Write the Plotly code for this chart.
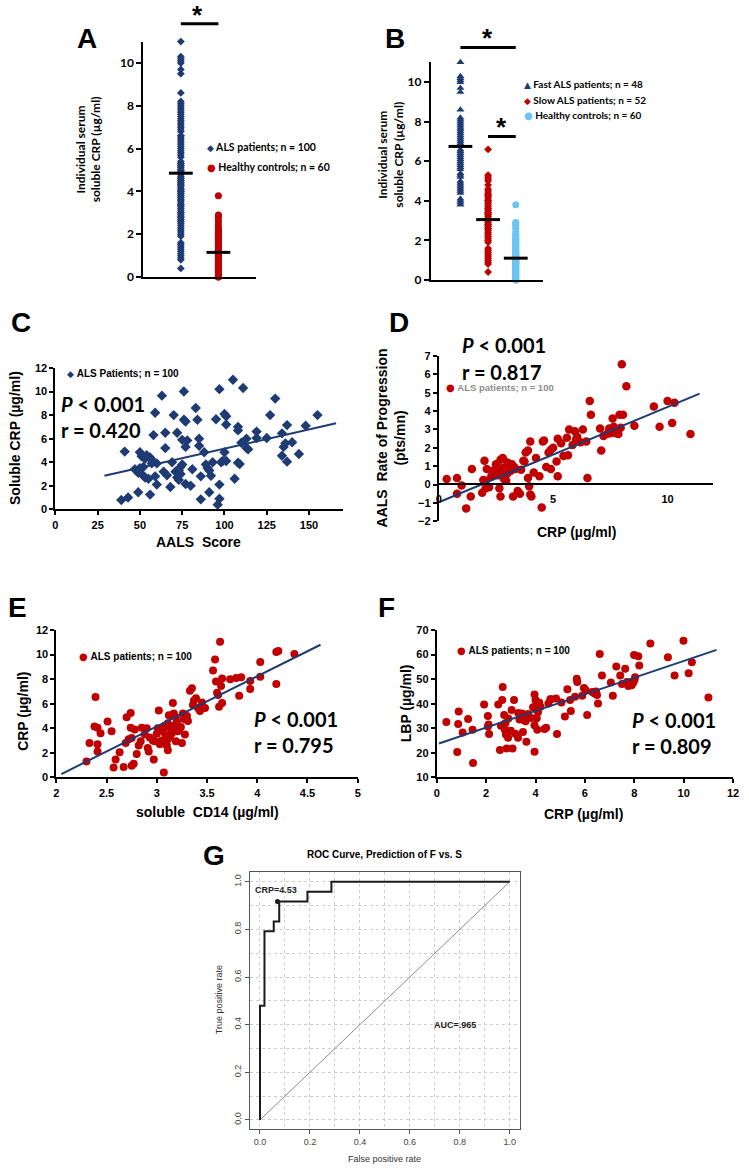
import plotly.graph_objects as go

W, H = 749, 1173
NAVY = "#1f3b73"
RED = "#c00000"
SKY = "#6cc5f2"

# A / B : individual serum soluble CRP (ug/ml)
fast_crp = [11.0, 10.3, 10.2, 10.1, 10.0, 9.7, 9.5, 8.6, 8.2, 8.1, 8.0, 7.9, 7.8, 7.7, 7.6, 7.5,
            7.4, 7.3, 7.2, 7.1, 7.0, 6.9, 6.8, 6.6, 6.5, 6.4, 6.3, 6.2, 6.1, 6.0, 5.9, 5.8,
            5.7, 5.6, 5.4, 5.3, 5.2, 5.0, 4.9, 4.8, 4.7, 4.6, 4.5, 4.4, 4.1, 4.0, 3.9, 3.8]
slow_crp = [6.6, 5.3, 5.2, 5.1, 5.0, 4.8, 4.6, 4.5, 4.4, 4.3, 4.2, 4.1, 4.0, 4.0, 3.9, 3.8,
            3.7, 3.6, 3.5, 3.4, 3.3, 3.3, 3.2, 3.1, 3.0, 3.0, 2.9, 2.8, 2.7, 2.6, 2.6, 2.5,
            2.4, 2.3, 2.2, 2.1, 2.0, 1.9, 1.6, 1.5, 1.4, 1.3, 1.2, 1.1, 1.0, 0.9, 0.8, 0.4,
            3.6, 2.8, 4.3, 3.4]
als_crp = fast_crp + slow_crp
healthy_crp = [3.8, 2.9, 2.85, 2.75, 2.6, 2.45, 2.3, 2.25, 2.2, 2.1, 2.05, 2.0, 1.95, 1.9, 1.85,
               1.8, 1.7, 1.65, 1.6, 1.55, 1.5, 1.45, 1.4, 1.35, 1.3, 1.25, 1.2, 1.15, 1.1, 1.05,
               1.0, 0.95, 0.9, 0.85, 0.8, 0.75, 0.7, 0.65, 0.6, 0.55, 0.5, 0.45, 0.4, 0.35, 0.3,
               0.25, 0.2, 0.15, 0.1, 0.05, 0.0, 0.0, 1.75, 1.2, 0.9, 0.6, 0.3, 1.4, 0.8, 1.0]
a_cats = ["ALS", "Healthy"]
b_cats = ["Fast", "Slow", "Healthy"]
a_names = ["ALS patients; n = 100", "Healthy controls; n = 60"]
b_names = ["Fast ALS patients; n = 48", "Slow ALS patients; n = 52", "Healthy controls; n = 60"]
a_means = [4.85, 1.15]
b_means = [6.75, 3.05, 1.1]

# C : AALS score vs soluble CRP
c_aals = [41, 39, 43, 49, 49, 50, 50, 51, 51, 52, 53, 53, 54, 55, 56, 56, 57, 57, 58, 59,
          59, 60, 60, 63, 64, 65, 65, 66, 68, 69, 70, 71, 72, 72, 73, 73, 74, 74, 75, 75,
          76, 76, 77, 77, 77, 78, 80, 81, 83, 84, 85, 85, 86, 86, 88, 89, 90, 91, 92, 91,
          93, 95, 96, 97, 97, 97, 98, 99, 100, 100, 101, 101, 101, 105, 106, 108, 108, 108, 109, 111,
          110, 113, 113, 114, 119, 119, 125, 127, 130, 134, 134, 135, 136, 137, 137, 140, 144, 148, 155, 47]
c_crp = [4.9, 0.8, 1.0, 1.45, 3.1, 3.5, 4.85, 4.5, 3.0, 3.6, 2.7, 4.3, 4.6, 2.6, 4.4, 1.25, 4.2, 3.9, 6.3, 2.8,
         8.2, 2.1, 3.9, 9.65, 3.2, 6.5, 5.2, 2.9, 1.9, 4.0, 8.0, 3.2, 6.5, 2.7, 3.3, 2.5, 3.6, 3.0, 3.8, 5.9,
         7.6, 10.0, 7.45, 5.3, 2.15, 5.85, 2.0, 3.4, 8.6, 7.6, 6.0, 5.4, 2.8, 0.85, 4.85, 3.8, 3.5, 3.3, 2.85, 1.45,
         4.0, 7.65, 0.4, 10.2, 0.9, 2.1, 4.0, 4.1, 4.85, 8.1, 7.9, 7.2, 4.1, 11.0, 2.6, 6.7, 7.0, 3.95, 3.85, 10.3,
         5.65, 6.0, 5.2, 5.1, 6.6, 6.05, 6.05, 8.0, 9.4, 4.55, 6.45, 5.3, 5.6, 7.15, 4.05, 5.7, 4.7, 7.1, 8.0, 3.4]
c_fit_x = [29, 166]
c_fit_y = [2.85, 7.3]

# D : CRP vs AALS rate of progression
d_crp = [0.35, 0.8, 0.8, 1.0, 1.2, 1.4, 1.45, 1.9, 2.0, 2.05, 2.05, 2.1, 2.3, 2.5, 2.55, 2.6, 2.65, 2.7, 2.7, 2.8,
         2.8, 2.85, 2.95, 3.0, 3.1, 3.15, 3.25, 3.3, 3.45, 3.55, 3.7, 3.8, 3.9, 3.9, 3.95, 4.0, 4.0, 4.05, 4.15, 4.25,
         4.4, 4.5, 4.55, 4.6, 4.8, 4.9, 4.9, 5.15, 5.2, 5.2, 5.35, 5.45, 5.65, 5.7, 5.85, 5.95, 6.0, 6.05, 6.3, 6.45,
         6.5, 6.6, 6.65, 7.05, 7.1, 7.2, 7.35, 7.45, 7.6, 7.65, 7.75, 7.85, 7.9, 8.0, 8.05, 8.2, 8.55, 9.4, 9.65, 10.0,
         10.2, 10.3, 11.0, 2.35, 2.6, 3.35, 3.6, 2.2, 3.0, 5.0, 6.2, 7.5, 2.9, 3.75, 1.95, 4.7, 5.6, 3.2, 2.75, 7.95]
d_rate = [0.3, -0.5, 0.35, -0.05, -1.3, -0.65, 0.85, -0.45, 1.3, -0.2, 0.2, 0.85, 0.45, 1.1, 0.95, 0.7, -0.2, -0.65, 1.35, 1.45,
          0.9, 0.3, 0.2, 1.2, 1.0, 0.75, -0.65, 0.95, -0.35, -0.5, 1.3, 1.75, 1.85, 0.35, -0.1, 2.35, -0.55, -0.65, 0.65, 1.45,
          0.45, -1.25, 2.35, 2.4, 1.75, 0.85, 1.9, 1.25, 0.45, 2.5, 2.25, 1.55, 1.6, 3.0, 2.15, 2.9, 2.45, 2.6, 3.0, 2.35,
          0.35, 4.55, 3.8, 3.05, 1.85, 2.65, 2.75, 3.05, 3.6, 3.15, 2.8, 2.75, 3.8, 6.55, 3.8, 5.35, 3.2, 4.25, 3.15, 4.55,
          3.35, 4.45, 2.75, 0.75, 0.5, 0.85, 0.8, -0.15, 0.6, 2.0, 2.3, 2.8, 0.45, 1.25, 0.25, 0.95, 2.55, 1.1, 0.65, 3.1]
d_fit_x = [0.03, 11.4]
d_fit_y = [-0.95, 4.95]

# E : soluble CD14 vs CRP
e_cd14 = [2.3, 2.33, 2.39, 2.38, 2.41, 2.41, 2.41, 2.44, 2.51, 2.55, 2.57, 2.59, 2.63, 2.67, 2.69, 2.7, 2.72, 2.74, 2.74, 2.75,
          2.75, 2.77, 2.8, 2.84, 2.85, 2.9, 2.91, 2.92, 2.93, 2.97, 2.98, 3.02, 3.01, 3.03, 3.05, 3.07, 3.08, 3.09, 3.1, 3.11,
          3.11, 3.11, 3.13, 3.16, 3.17, 3.17, 3.19, 3.21, 3.22, 3.25, 3.26, 3.28, 3.3, 3.31, 3.33, 3.35, 3.37, 3.39, 3.41, 3.43,
          3.48, 3.56, 3.58, 3.59, 3.61, 3.62, 3.63, 3.64, 3.65, 3.65, 3.73, 3.79, 3.84, 3.82, 3.93, 3.93, 4.03, 4.03, 4.19, 4.19,
          4.21, 4.37, 3.2, 3.0, 3.14, 3.24, 2.88, 2.96, 3.06, 3.15, 3.36, 3.45, 3.12, 2.78, 3.27, 3.6, 3.07, 2.82, 3.19, 3.1]
e_crp = [1.3, 2.8, 6.55, 4.15, 4.05, 2.7, 2.1, 3.6, 4.55, 3.75, 0.8, 1.45, 2.05, 0.85, 2.8, 4.9, 3.1, 5.25, 4.05, 0.95,
         3.2, 1.1, 1.9, 2.95, 4.05, 4.0, 2.4, 2.1, 3.25, 1.45, 2.95, 5.45, 4.0, 2.7, 3.0, 0.4, 4.2, 3.4, 2.6, 3.1,
         4.4, 2.2, 3.3, 6.05, 5.2, 4.2, 4.9, 3.75, 3.9, 2.8, 5.2, 3.5, 5.0, 4.6, 7.05, 7.25, 6.25, 6.45, 5.65, 5.4,
         5.65, 8.7, 9.6, 7.8, 6.7, 5.75, 11.05, 7.45, 8.05, 6.05, 8.0, 8.1, 8.15, 6.65, 7.85, 7.2, 9.4, 8.2, 7.6, 10.2,
         10.3, 10.05, 4.5, 3.55, 4.0, 4.1, 3.5, 3.0, 2.9, 3.6, 5.9, 6.1, 5.05, 3.9, 4.75, 6.9, 3.7, 2.6, 2.95, 3.35]
e_fit_x = [2.05, 4.63]
e_fit_y = [0.27, 10.8]

# F : CRP vs LBP
f_crp = [0.39, 0.83, 0.87, 0.89, 1.05, 1.27, 1.45, 1.47, 1.92, 2.07, 2.07, 2.12, 2.1, 2.49, 2.56, 2.65, 2.67, 2.73, 2.76, 2.78,
         2.8, 2.83, 2.89, 2.95, 3.03, 3.07, 3.13, 3.18, 3.29, 3.3, 3.35, 3.49, 3.52, 3.63, 3.7, 3.83, 3.96, 3.96, 3.96, 4.0,
         4.03, 4.05, 4.07, 4.15, 4.36, 4.43, 4.52, 4.63, 4.83, 4.87, 5.19, 5.29, 5.4, 5.43, 5.67, 5.69, 5.89, 5.96, 6.03, 6.09,
         6.39, 6.49, 6.53, 6.6, 6.69, 7.05, 7.13, 7.27, 7.43, 7.63, 7.7, 7.76, 7.89, 7.99, 8.03, 8.16, 8.2, 8.65, 9.36, 9.63,
         9.99, 10.2, 10.33, 11.0, 2.6, 3.0, 3.45, 3.9, 4.2, 4.6, 5.05, 5.6, 6.3, 7.5, 7.95, 2.9, 3.6, 4.1, 6.45, 8.0]
f_lbp = [32.5, 20.3, 31.7, 36.8, 28.3, 33.8, 29.4, 15.8, 39.7, 35.0, 30.7, 27.7, 31.5, 39.7, 21.1, 41.5, 46.8, 35.4, 29.4, 32.0,
         27.5, 21.8, 26.1, 28.8, 37.4, 21.8, 41.5, 27.8, 26.1, 36.2, 33.6, 28.5, 33.4, 24.5, 35.8, 34.2, 43.7, 31.2, 20.4, 41.5,
         39.5, 34.1, 29.4, 40.5, 29.7, 30.2, 40.1, 41.8, 42.1, 27.7, 34.8, 45.9, 41.5, 37.0, 50.2, 48.8, 43.2, 46.4, 45.5, 35.4,
         44.1, 43.5, 40.1, 60.2, 51.5, 48.6, 43.2, 55.1, 51.5, 54.2, 48.8, 47.2, 47.5, 59.8, 50.8, 59.3, 55.5, 64.5, 58.9, 51.5,
         65.6, 52.4, 56.9, 42.5, 31.0, 29.0, 36.0, 38.5, 38.8, 41.8, 40.5, 42.8, 44.8, 48.0, 48.5, 34.0, 32.8, 36.5, 45.0, 49.5]
f_fit_x = [0.09, 11.33]
f_fit_y = [23.8, 61.9]

# G : ROC curve, fast vs slow
roc_fpr = [0, 0, 0.018, 0.018, 0.055, 0.055, 0.077, 0.077, 0.19, 0.19, 0.286, 0.286, 1.0]
roc_tpr = [0, 0.479, 0.479, 0.792, 0.792, 0.833, 0.833, 0.917, 0.917, 0.958, 0.958, 1.0, 1.0]
cut_fpr = [0.07]
cut_tpr = [0.917]
diag = [0, 1]


def px(v):
    return v / W


def py(v):
    return 1 - v / H


CAL = "Lato"
ARI = "Liberation Sans"
cal_tick = dict(family=CAL, size=12, color="black", weight="bold")
ari_tick = dict(family=ARI, size=11, color="black", weight="bold")
g_tick = dict(family=ARI, size=9, color="#444")

fig = go.Figure()


def pts(x, y, ax, sym, size, color, name):
    fig.add_trace(go.Scatter(x=x, y=y, mode="markers", name=name, showlegend=False,
                             marker=dict(symbol=sym, size=size, color=color),
                             xaxis="x" + ax, yaxis="y" + ax, cliponaxis=False))


def fit(x, y, ax):
    fig.add_trace(go.Scatter(x=x, y=y, mode="lines", showlegend=False,
                             line=dict(color=NAVY, width=2), xaxis="x" + ax, yaxis="y" + ax))


def means(cats, vals, ax):
    fig.add_trace(go.Scatter(x=cats, y=vals, mode="markers", showlegend=False, cliponaxis=False,
                             marker=dict(symbol="line-ew", size=17, line=dict(width=3, color="black")),
                             xaxis="x" + ax, yaxis="y" + ax))


# A
pts([a_cats[0]] * len(als_crp), als_crp, "", "diamond", 6, NAVY, a_names[0])
pts([a_cats[1]] * len(healthy_crp), healthy_crp, "", "circle", 7, RED, a_names[1])
means(a_cats, a_means, "")
# B
pts([b_cats[0]] * len(fast_crp), fast_crp, "2", "triangle-up", 7, NAVY, b_names[0])
pts([b_cats[1]] * len(slow_crp), slow_crp, "2", "diamond", 6, RED, b_names[1])
pts([b_cats[2]] * len(healthy_crp), healthy_crp, "2", "circle", 7, SKY, b_names[2])
means(b_cats, b_means, "2")
# C - F
pts(c_aals, c_crp, "3", "diamond", 8, NAVY, "ALS Patients; n = 100")
fit(c_fit_x, c_fit_y, "3")
pts(d_crp, d_rate, "4", "circle", 8.5, RED, "ALS patients; n = 100")
fit(d_fit_x, d_fit_y, "4")
pts(e_cd14, e_crp, "5", "circle", 8, RED, "ALS patients; n = 100")
fit(e_fit_x, e_fit_y, "5")
pts(f_crp, f_lbp, "6", "circle", 8, RED, "ALS patients; n = 100")
fit(f_fit_x, f_fit_y, "6")
# G
fig.add_trace(go.Scatter(x=diag, y=diag, mode="lines", showlegend=False,
                         line=dict(color="#8a8a8a", width=1), xaxis="x7", yaxis="y7"))
fig.add_trace(go.Scatter(x=roc_fpr, y=roc_tpr, mode="lines", showlegend=False,
                         line=dict(color="#1a1a1a", width=2), xaxis="x7", yaxis="y7"))
fig.add_trace(go.Scatter(x=cut_fpr, y=cut_tpr, mode="markers", showlegend=False,
                         marker=dict(size=5, color="#1a1a1a"), xaxis="x7", yaxis="y7"))


def ax(**kw):
    d = dict(showgrid=False, zeroline=False, showline=True, linecolor="black", linewidth=2,
             ticks="outside", ticklen=5, tickwidth=2, tickcolor="black")
    d.update(kw)
    return d


grid_g = dict(showgrid=True, gridcolor="#cfcfcf", griddash="dot", gridwidth=1,
              showline=True, mirror=True, linecolor="#555", linewidth=1,
              ticks="outside", ticklen=4, tickwidth=1, tickcolor="#555",
              tick0=0, dtick=0.2, tickformat=".1f", tickfont=g_tick, zeroline=False,
              range=[-0.04, 1.04],
              minor=dict(dtick=0.1, tick0=0, showgrid=True, gridcolor="#cfcfcf", griddash="dot", ticks=""))

fig.update_layout(
    width=W, height=H, margin=dict(l=0, r=0, t=0, b=0), showlegend=False,
    paper_bgcolor="white", plot_bgcolor="white",
    xaxis=ax(domain=[px(142), px(256)], range=[-1, 2], type="category", categoryarray=a_cats,
             showticklabels=False, ticks="", anchor="y"),
    yaxis=ax(domain=[py(274), py(36)], range=[0, 11], tickvals=[0, 2, 4, 6, 8, 10],
             tickfont=cal_tick, anchor="x"),
    xaxis2=ax(domain=[px(433), px(547)], range=[-1.07, 3.0], type="category", categoryarray=b_cats,
              showticklabels=False, ticks="", anchor="y2"),
    yaxis2=ax(domain=[py(277), py(57)], range=[0, 11], tickvals=[0, 2, 4, 6, 8, 10],
              tickfont=cal_tick, anchor="x2"),
    xaxis3=ax(domain=[px(53), px(344)], range=[0, 170], tickvals=[0, 25, 50, 75, 100, 125, 150],
              tickfont=ari_tick, ticklen=4, anchor="y3"),
    yaxis3=ax(domain=[py(509), py(366)], range=[0, 12], dtick=2, tickfont=ari_tick, ticklen=4, anchor="x3"),
    xaxis4=ax(domain=[px(441), px(719)], range=[0, 12], tickvals=[0, 5, 10], tickfont=ari_tick,
              tickcolor="rgba(0,0,0,0)", anchor="free", position=py(483)),
    yaxis4=ax(domain=[py(521), py(354)], range=[-2, 7], dtick=1, tickfont=ari_tick, ticklen=4, anchor="x4"),
    xaxis5=ax(domain=[px(54), px(359)], range=[2, 5], dtick=0.5, tickfont=ari_tick, ticklen=4, anchor="y5"),
    yaxis5=ax(domain=[py(780), py(631)], range=[0, 12], dtick=2, tickfont=ari_tick, ticklen=4, anchor="x5"),
    xaxis6=ax(domain=[px(439), px(739)], range=[0, 12], dtick=2, tickfont=ari_tick, ticklen=4, anchor="y6"),
    yaxis6=ax(domain=[py(780), py(631)], range=[10, 70], dtick=10, tickfont=ari_tick, ticklen=4, anchor="x6"),
    xaxis7=dict(domain=[px(250), px(523)], anchor="y7", **grid_g),
    yaxis7=dict(domain=[py(1136), py(876)], anchor="x7", tickangle=-90, **grid_g),
)

ann = []


def text(t, x, y, size, family=ARI, angle=0, xanchor="center", color="black", bold=True):
    ann.append(dict(text=t, x=px(x), y=py(y), xref="paper", yref="paper", showarrow=False,
                    xanchor=xanchor, yanchor="middle", textangle=angle,
                    font=dict(family=family, size=size, color=color, weight="bold" if bold else "normal")))


# panel letters
for lab, x, y in [("A", 85, 33), ("B", 397, 33), ("C", 18, 320), ("D", 401, 320),
                  ("E", 15, 608), ("F", 388, 608), ("G", 214, 859)]:
    text(lab, x, y, 28)

# axis titles
text("Individual serum<br>soluble CRP (µg/ml)", 86, 145, 12, CAL, -90)
text("Individual serum<br>soluble CRP (µg/ml)", 392, 150, 12, CAL, -90)
text("AALS  Score", 198, 542, 14)
text("Soluble CRP (µg/ml)", 12, 437, 14, angle=-90)
text("CRP (µg/ml)", 580, 532, 14)
text("AALS  Rate of Progression<br>(pts/mn)", 393, 437, 14, angle=-90)
text("soluble  CD14 (µg/ml)", 207, 815, 14)
text("CRP (µg/ml)", 20, 713, 14, angle=-90)
text("CRP (µg/ml)", 588, 817, 14)
text("LBP (µg/ml)", 408, 705, 14, angle=-90)
text("ROC Curve, Prediction of F vs. S", 386, 858, 10)
text("False positive rate", 386, 1166, 9, color="#333", bold=False)
text("True positive rate", 218, 1005, 9, angle=-90, color="#333", bold=False)


# legend keys: coloured symbol + label
def key(sym, color, sym_size, label, x, y, family, size, tcolor="black"):
    t = ("<span style='font-family:DejaVu Sans;font-size:%spx;color:%s'>%s</span>&nbsp;%s"
         % (sym_size, color, sym, label))
    text(t, x, y, size, family, xanchor="left", color=tcolor)


key("◆", NAVY, 9, a_names[0], 204, 143, CAL, 10.5)
key("●", RED, 10, a_names[1], 204, 163, CAL, 10.5)
key("▲", NAVY, 9, b_names[0], 525, 79, CAL, 10)
key("◆", RED, 9, b_names[1], 525, 95, CAL, 10)
key("●", SKY, 10, b_names[2], 525, 110, CAL, 10)
key("◆", NAVY, 9, "ALS Patients; n = 100", 63, 372, ARI, 10)
key("●", RED, 10, "ALS patients; n = 100", 446, 386, ARI, 9.5, "#8c8c8c")
key("●", RED, 10, "ALS patients; n = 100", 75, 658, ARI, 10)
key("●", RED, 10, "ALS patients; n = 100", 457, 652, ARI, 10)

# statistics
for x, y1, y2, r in [(57, 402, 429, "0.420"), (463, 343, 370, "0.817"),
                     (252, 721, 747, "0.795"), (635, 722, 748, "0.809")]:
    text("<i>P</i> &lt; 0.001", x, y1, 20, CAL, xanchor="left")
    text("r = " + r, x, y2, 20, CAL, xanchor="left")

# significance stars
for x, y in [(197, 9), (490, 32), (505, 122)]:
    text("*", x, y, 26)

ann.append(dict(text="CRP=4.53", x=0.066, y=0.965, xref="x7", yref="y7", showarrow=False,
                font=dict(family=ARI, size=9, color="#222", weight="bold")))
ann.append(dict(text="AUC=.965", x=0.78, y=0.4, xref="x7", yref="y7", showarrow=False,
                font=dict(family=ARI, size=9, color="#222", weight="bold")))
fig.update_layout(annotations=ann)

bar = dict(type="line", yref="paper", line=dict(color="black", width=3))
fig.update_layout(shapes=[
    dict(xref="x", x0=0, x1=1, y0=py(18), y1=py(18), **bar),
    dict(xref="x2", x0=0, x1=2, y0=py(42), y1=py(42), **bar),
    dict(xref="x2", x0=1, x1=2, y0=py(132), y1=py(132), **bar),
])

# the page body keeps a default 8px margin; drop it so the figure sits at the window origin
fig.write_html("out.html", config={"displayModeBar": False},
               post_script="document.body.style.margin='0';")
